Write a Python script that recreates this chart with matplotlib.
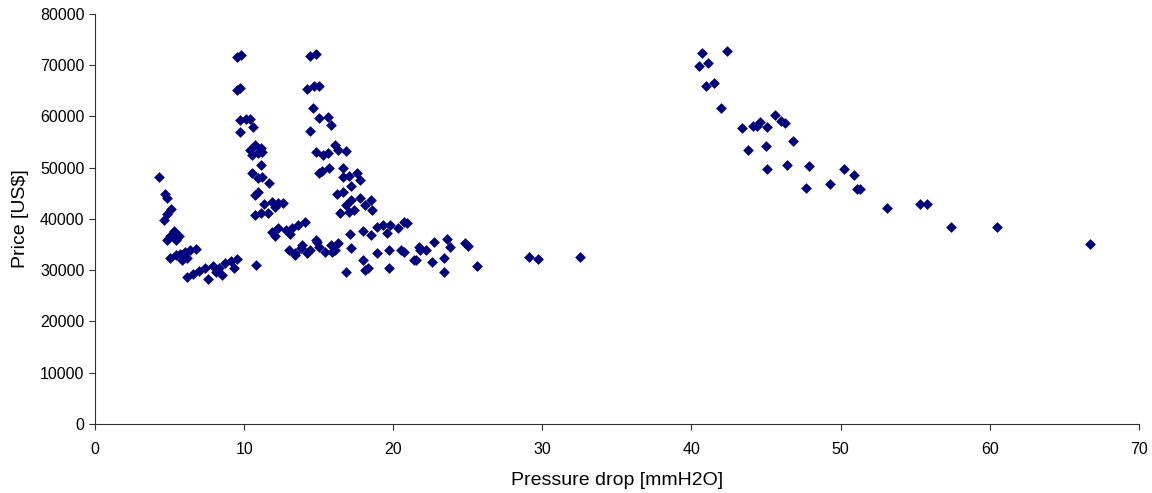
import matplotlib.pyplot as plt

plt.rcParams['font.family'] = ['Liberation Sans', 'DejaVu Sans']

# pressure drop [mmH2O] and price [US$]
pressure = [
    # first group
    4.3, 4.7, 4.8, 4.6, 4.8, 5.1, 4.8, 5.0, 5.3, 5.6, 5.4, 5.0, 5.4, 5.7, 6.0,
    6.4, 6.8, 5.8, 6.2, 6.2, 6.6, 7.0, 7.4, 7.9, 7.6, 8.3, 8.7, 9.1, 9.5, 9.3,
    8.5, 8.1, 10.8,
    # second group
    9.5, 9.8, 9.5, 9.7, 9.7, 10.1, 10.4, 9.7, 10.6, 10.4, 10.7, 11.1, 10.5, 10.9,
    11.2, 11.1, 10.5, 10.9, 11.2, 11.7, 10.7, 10.9, 11.3, 11.9, 12.3, 12.6, 12.1,
    10.7, 11.1, 11.6, 11.9, 12.3, 12.8, 13.2, 13.6, 14.1, 12.1, 13.1, 13.0, 13.4,
    13.8, 14.4, 15.0, 15.4, 16.1, 14.8,
    # third group
    14.4, 14.8, 14.2, 14.7, 15.0, 14.6, 15.0, 15.6, 15.8, 14.4, 16.1, 14.8, 15.3,
    15.6, 16.3, 16.8, 15.0, 15.2, 15.7, 16.6, 16.6, 17.0, 17.6, 17.8, 17.2, 16.2,
    16.6, 16.8, 17.2, 17.8, 18.1, 17.4, 17.0, 18.5, 18.6, 16.4, 17.1, 18.0, 18.5,
    18.9, 19.3, 19.8, 19.6, 20.3, 20.7, 20.9, 13.4, 13.9, 14.2, 14.9, 15.8, 15.9,
    16.3, 17.2, 18.0, 18.9, 19.7, 20.5, 20.7, 16.8, 18.1, 18.3, 19.7, 21.5, 21.7,
    21.8, 22.2, 21.4, 22.7, 23.6, 23.8, 22.6, 23.4, 23.4, 24.8, 25.0, 25.6,
    29.1, 29.7, 32.5,
    # high pressure group
    40.7, 42.4, 40.5, 41.1, 41.0, 41.5, 42.0, 43.4, 44.1, 44.4, 44.6, 45.1, 45.6,
    46.0, 46.3, 43.8, 45.0, 46.8, 45.1, 46.4, 47.9, 47.7, 49.3, 50.2, 50.9, 51.1,
    51.3, 53.1, 55.3, 55.8, 57.4, 60.5, 66.7,
]
price = [
    48200, 44900, 44100, 39800, 41000, 41900, 35900, 36700, 37700, 36700, 35900,
    32400, 33000, 33200, 33600, 33900, 34100, 32000, 32400, 28700, 29300, 29900,
    30400, 30800, 28300, 30400, 31400, 31800, 32200, 30400, 29100, 29700, 31000,
    71600, 71900, 65200, 65600, 59300, 59500, 59500, 57000, 57900, 53500, 54400,
    53800, 52500, 52900, 53100, 50500, 49000, 48000, 48200, 47000, 44700, 45300,
    42900, 43300, 43100, 43100, 42300, 40800, 41200, 41200, 37500, 38200, 37800,
    38200, 38800, 39400, 36700, 37100, 33900, 33400, 34300, 33900, 34500, 33600,
    33900, 35900,
    71800, 72100, 65400, 65900, 66000, 61600, 59700, 59900, 58300, 57200, 54400,
    53100, 52500, 52900, 53500, 53300, 49000, 49400, 50000, 50000, 48200, 48400,
    49000, 47600, 46400, 44900, 45300, 42700, 43700, 44100, 42700, 41800, 41400,
    43700, 41800, 41200, 37100, 37700, 36900, 38400, 38800, 38800, 37300, 38200,
    39400, 39200, 33000, 34900, 33400, 35500, 34900, 33600, 35300, 34300, 32000,
    33400, 33900, 33900, 33600, 29700, 30000, 30400, 30400, 32000, 34500, 33900,
    33900, 32000, 35500, 36100, 34500, 31600, 32400, 29700, 35300, 34700, 30800,
    32600, 32200, 32600,
    72400, 72800, 69800, 70400, 66000, 66500, 61600, 57700, 58100, 58100, 58900,
    57900, 60300, 59100, 58700, 53500, 54200, 55200, 49700, 50500, 50300, 46000,
    46800, 49700, 48600, 45800, 45800, 42100, 42900, 42900, 38400, 38400, 35100,
]

fig = plt.figure(figsize=(11.52, 4.93), dpi=100)
ax = fig.add_axes([0.0825, 0.14, 0.906, 0.832])

ax.scatter(pressure, price, marker='D', s=30, color='#000080', linewidths=0)

ax.set_xlim(0, 70)
ax.set_ylim(0, 80000)
ax.set_xticks(range(0, 71, 10))
ax.set_yticks(range(0, 80001, 10000))
ax.tick_params(labelsize=11.5, length=4, color='#303030')
ax.tick_params(axis='x', pad=9)

for side in ['top', 'right']:
    ax.spines[side].set_visible(False)
for side in ['left', 'bottom']:
    ax.spines[side].set_color('#303030')

ax.set_xlabel('Pressure drop [mmH2O]', fontsize=14, labelpad=11)
ax.set_ylabel('Price [US$]', fontsize=14, labelpad=8)

fig.savefig('out.png', dpi=100)
